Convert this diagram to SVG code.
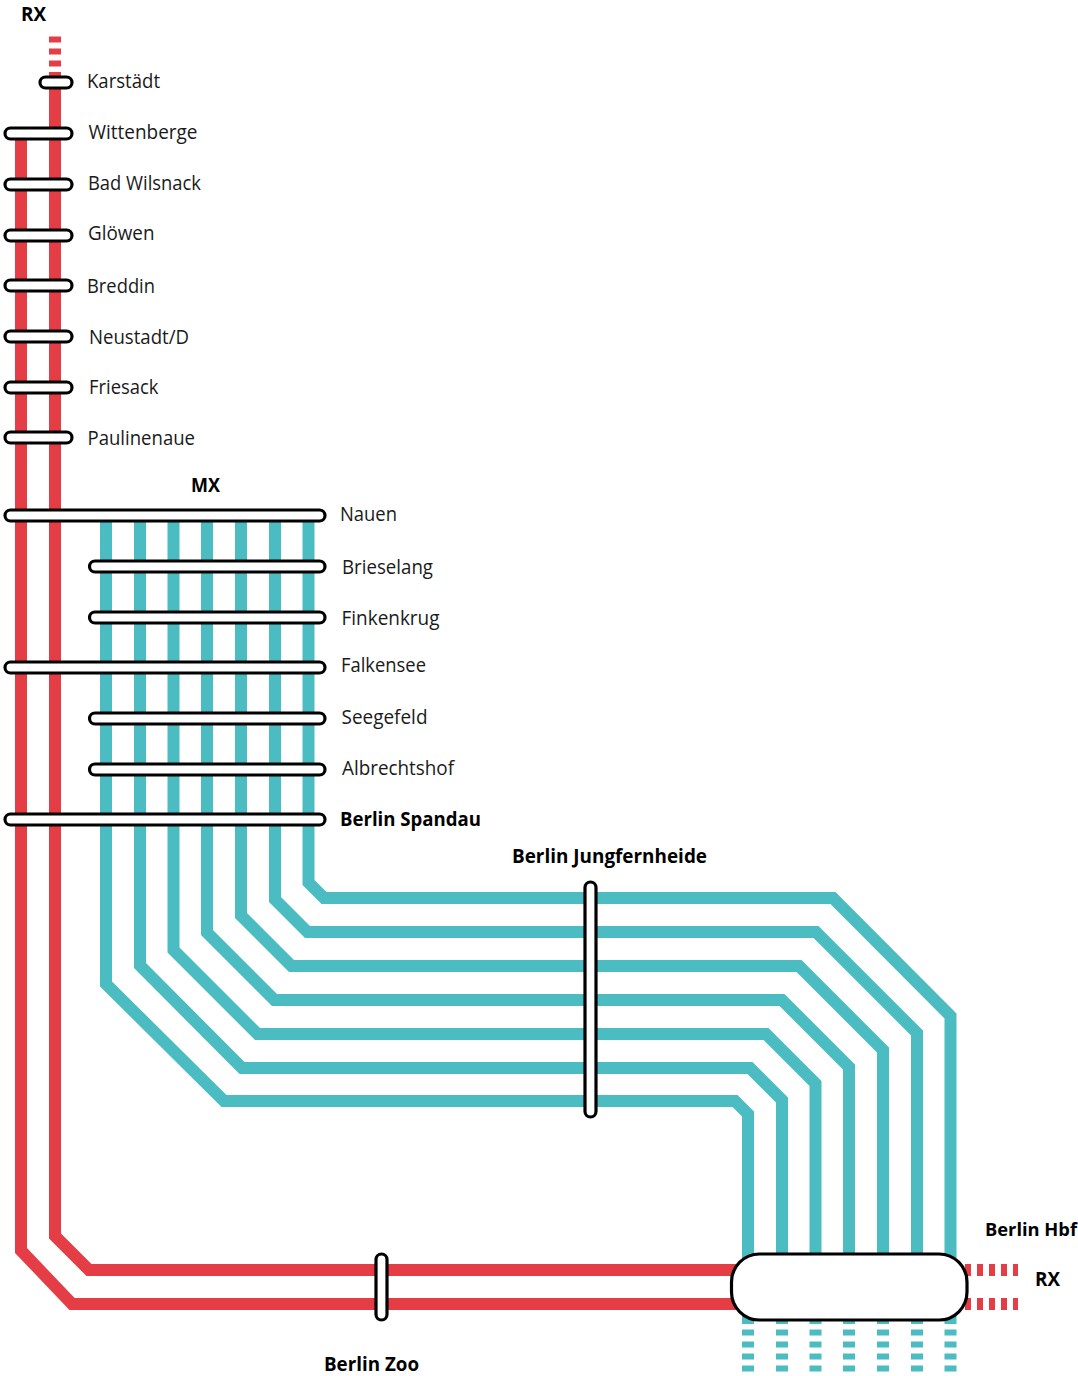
<svg xmlns="http://www.w3.org/2000/svg" width="1078" height="1376" viewBox="0 0 1078 1376">
<style>
.r{fill:none;stroke:#e53d45;stroke-width:12;stroke-linejoin:miter}
.t{fill:none;stroke:#4bbcc2;stroke-width:12;stroke-linejoin:miter}
.rd{stroke-dasharray:6 6}
.p{fill:#fff;stroke:#000;stroke-width:3.2}
text{font-family:"Open Sans","Noto Sans","Liberation Sans",sans-serif;font-size:20px;fill:#1a1a1a}
.b{font-weight:700;fill:#000}
</style>
<rect width="1078" height="1376" fill="#fff"/>
<g id="connectors">
<path class="r" d="M21 133V1250.5L72 1304H740"/>
<path class="r" d="M55 72V1236L89 1270H740"/>
<path class="r rd" d="M55 36.5V72.5"/>
<path class="r rd" d="M965 1270H1018"/>
<path class="r rd" d="M965 1304H1018"/>
<path class="t" d="M106 515V984L224 1101H735L748 1114V1324"/>
<path class="t" d="M140 515V965.5L242 1068H750L782 1100V1324"/>
<path class="t" d="M173.5 515V950L257.5 1034H766L815.5 1083.5V1324"/>
<path class="t" d="M207 515V932.5L274.5 1000H782L849 1067V1324"/>
<path class="t" d="M241 515V915.5L291.5 966H799L883 1050V1324"/>
<path class="t" d="M275 515V899.5L307.5 932H816L917 1033V1324"/>
<path class="t" d="M308.5 515V882.5L324 898H833L950.5 1016V1324"/>
<g class="dashes">
<path class="t rd" d="M748 1329.5V1372"/>
<path class="t rd" d="M782 1329.5V1372"/>
<path class="t rd" d="M815.5 1329.5V1372"/>
<path class="t rd" d="M849 1329.5V1372"/>
<path class="t rd" d="M883 1329.5V1372"/>
<path class="t rd" d="M917 1329.5V1372"/>
<path class="t rd" d="M950.5 1329.5V1372"/>
</g>
</g>
<g id="rx-top"><text class="b" x="21" y="21" textLength="25" lengthAdjust="spacingAndGlyphs">RX</text></g>
<g id="karstadt"><rect class="p" x="40" y="77" width="32" height="11" rx="5.5"/><text x="87" y="87.7" textLength="73" lengthAdjust="spacingAndGlyphs">Karstädt</text></g>
<g id="wittenberge"><rect class="p" x="5" y="128" width="67" height="11" rx="5.5"/><text x="88.500" y="138.700" textLength="109" lengthAdjust="spacingAndGlyphs">Wittenberge</text></g>
<g id="bad-wilsnack"><rect class="p" x="5" y="179" width="67" height="11" rx="5.5"/><text x="88" y="189.700" textLength="113" lengthAdjust="spacingAndGlyphs">Bad Wilsnack</text></g>
<g id="glowen"><rect class="p" x="5" y="230" width="67" height="11" rx="5.5"/><text x="88" y="239.700" textLength="66.500" lengthAdjust="spacingAndGlyphs">Glöwen</text></g>
<g id="breddin"><rect class="p" x="5" y="280" width="67" height="11" rx="5.5"/><text x="87" y="292.500" textLength="68" lengthAdjust="spacingAndGlyphs">Breddin</text></g>
<g id="neustadt"><rect class="p" x="5" y="331" width="67" height="11" rx="5.5"/><text x="89" y="343.500" textLength="100" lengthAdjust="spacingAndGlyphs">Neustadt/D</text></g>
<g id="friesack"><rect class="p" x="5" y="382" width="67" height="11" rx="5.5"/><text x="89" y="394" textLength="69.500" lengthAdjust="spacingAndGlyphs">Friesack</text></g>
<g id="paulinenaue"><rect class="p" x="5" y="432" width="67" height="11" rx="5.5"/><text x="87.500" y="444.500" textLength="107.500" lengthAdjust="spacingAndGlyphs">Paulinenaue</text></g>
<g id="mx"><text class="b" x="191" y="492" textLength="29" lengthAdjust="spacingAndGlyphs">MX</text></g>
<g id="nauen"><rect class="p" x="5" y="510" width="320" height="11" rx="5.5"/><text x="340" y="520.700" textLength="57" lengthAdjust="spacingAndGlyphs">Nauen</text></g>
<g id="brieselang"><rect class="p" x="89.500" y="561" width="235.500" height="11" rx="5.5"/><text x="342" y="574" textLength="91" lengthAdjust="spacingAndGlyphs">Brieselang</text></g>
<g id="finkenkrug"><rect class="p" x="89.500" y="612" width="235.500" height="11" rx="5.5"/><text x="341.500" y="625" textLength="98" lengthAdjust="spacingAndGlyphs">Finkenkrug</text></g>
<g id="falkensee"><rect class="p" x="5" y="662" width="320" height="11" rx="5.5"/><text x="341" y="671.700" textLength="85" lengthAdjust="spacingAndGlyphs">Falkensee</text></g>
<g id="seegefeld"><rect class="p" x="89.500" y="713" width="235.500" height="11" rx="5.5"/><text x="341.500" y="723.700" textLength="86" lengthAdjust="spacingAndGlyphs">Seegefeld</text></g>
<g id="albrechtshof"><rect class="p" x="89.500" y="764" width="235.500" height="11" rx="5.5"/><text x="342" y="774.700" textLength="112" lengthAdjust="spacingAndGlyphs">Albrechtshof</text></g>
<g id="berlin-spandau"><rect class="p" x="5" y="814" width="320" height="11" rx="5.5"/><text class="b" x="340" y="826" textLength="141" lengthAdjust="spacingAndGlyphs">Berlin Spandau</text></g>
<g id="berlin-jungfernheide"><rect class="p" x="585" y="882" width="11" height="235" rx="5.5"/><text class="b" x="512" y="863" textLength="195" lengthAdjust="spacingAndGlyphs">Berlin Jungfernheide</text></g>
<g id="berlin-zoo"><rect class="p" x="376" y="1254" width="11" height="66" rx="5.5"/><text class="b" x="324" y="1371" textLength="95" lengthAdjust="spacingAndGlyphs">Berlin Zoo</text></g>
<g id="berlin-hbf"><rect class="p" x="731.500" y="1254" width="235.500" height="66" rx="28"/><text class="b" x="985" y="1236" font-size="18" style="font-size:18px" textLength="92" lengthAdjust="spacingAndGlyphs">Berlin Hbf</text></g>
<g id="rx-right"><text class="b" x="1035" y="1286" textLength="25" lengthAdjust="spacingAndGlyphs">RX</text></g>
</svg>
